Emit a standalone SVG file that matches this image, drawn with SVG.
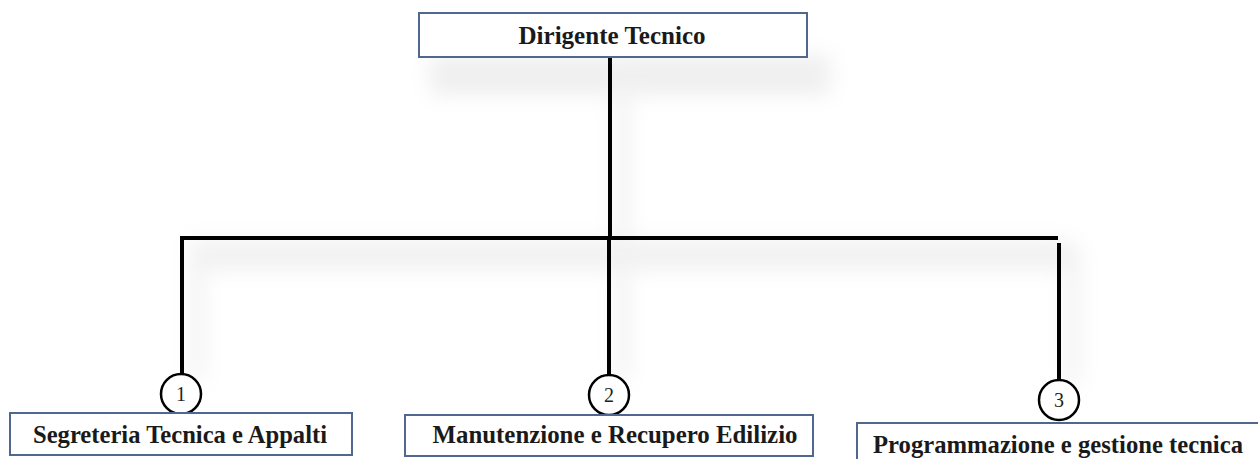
<svg xmlns="http://www.w3.org/2000/svg" width="1258" height="459" viewBox="0 0 1258 459">
<defs>
<filter id="soft" x="-20%" y="-50%" width="140%" height="200%"><feGaussianBlur stdDeviation="10"/></filter>
<style>
.box{fill:#ffffff;stroke:#50678f;stroke-width:2}
.lbl{font-family:"Liberation Serif","Times New Roman",serif;font-weight:bold;font-size:25.5px;fill:#1a1a1a;text-anchor:middle}
.num{font-family:"Liberation Serif","Times New Roman",serif;font-size:20px;fill:#222;text-anchor:middle}
.wire{stroke:#000;stroke-width:4;fill:none}
.ring{fill:#fff;stroke:#000;stroke-width:2.5}
</style>
</defs>
<rect width="1258" height="459" fill="#fff"/>
<g id="shadows" opacity="0.13" filter="url(#soft)">
<rect x="430" y="55" width="400" height="40" fill="#888"/>
<rect x="190" y="240" width="880" height="30" fill="#999"/>
<rect x="615" y="60" width="14" height="180" fill="#999"/>
<rect x="190" y="240" width="14" height="140" fill="#999"/>
<rect x="615" y="240" width="14" height="140" fill="#999"/>
<rect x="1066" y="245" width="14" height="140" fill="#999"/>
</g>
<g id="connectors">
<path class="wire" d="M610 57 V238"/>
<path class="wire" d="M180 238 H1058"/>
<path class="wire" d="M182 238 V375"/>
<path class="wire" d="M609 238 V375"/>
<path class="wire" d="M1059 243 V379"/>
</g>
<g id="n0">
<rect class="box" x="419" y="13" width="388" height="44"/>
<text class="lbl" x="612" y="44" textLength="187" lengthAdjust="spacingAndGlyphs">Dirigente Tecnico</text>
</g>
<g id="n1">
<circle class="ring" cx="181" cy="394" r="20"/>
<text class="num" x="181" y="401">1</text>
<rect class="box" x="10" y="413" width="342" height="42"/>
<text class="lbl" x="180" y="443" textLength="294" lengthAdjust="spacingAndGlyphs">Segreteria Tecnica e Appalti</text>
</g>
<g id="n2">
<circle class="ring" cx="609" cy="395" r="20"/>
<text class="num" x="609" y="402">2</text>
<rect class="box" x="405" y="415" width="408" height="41"/>
<text class="lbl" x="615" y="443" textLength="365" lengthAdjust="spacingAndGlyphs">Manutenzione e Recupero Edilizio</text>
</g>
<g id="n3">
<circle class="ring" cx="1059" cy="400" r="20"/>
<text class="num" x="1059" y="407">3</text>
<rect class="box" x="857" y="423" width="410" height="45"/>
<text class="lbl" x="1058" y="453" textLength="370" lengthAdjust="spacingAndGlyphs">Programmazione e gestione tecnica</text>
</g>
</svg>
